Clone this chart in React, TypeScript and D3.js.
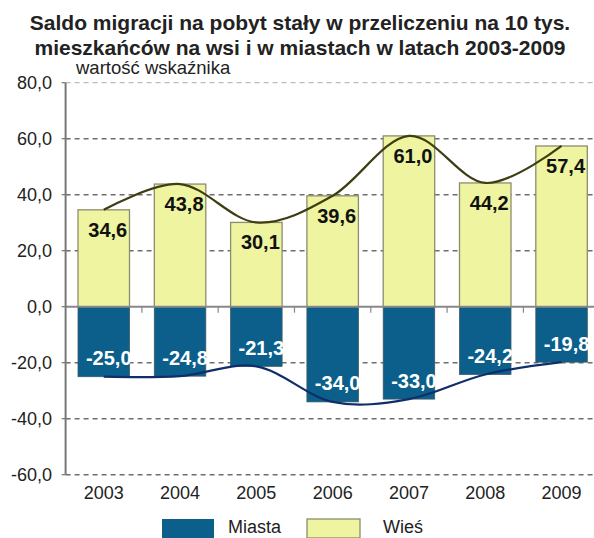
import { curveCardinal, line, scaleBand, scaleLinear } from 'd3'

const WIDTH = 594
const HEIGHT = 538

const years = ['2003', '2004', '2005', '2006', '2007', '2008', '2009']
const wies = [34.6, 43.8, 30.1, 39.6, 61.0, 44.2, 57.4]
const miasta = [-25.0, -24.8, -21.3, -34.0, -33.0, -24.2, -19.8]
const yTicks = [80, 60, 40, 20, 0, -20, -40, -60]

const titleLines = [
  'Saldo migracji na pobyt stały w przeliczeniu na 10 tys.',
  'mieszkańców na wsi i w miastach w latach 2003-2009',
]

const BLUE = '#0b5f8a'
const YELLOW = '#eef49f'
const YELLOW_EDGE = '#8c8c6e'
const FONT = '"Liberation Sans", Arial, sans-serif'

const fmt = (v: number) => v.toFixed(1).replace('.', ',')

export default function App() {
  const x = scaleBand<string>()
    .domain(years)
    .range([65.6, 599.7])
    .paddingInner(0.325)
    .paddingOuter(0.1625)
  const y = scaleLinear().domain([-60, 80]).range([474.7, 82.7])
  const cx = (year: string) => (x(year) ?? 0) + x.bandwidth() / 2

  const trend = line<[string, number]>()
    .x((d) => cx(d[0]))
    .y((d) => y(d[1]))
    .curve(curveCardinal.tension(0))

  const axisX = 65.6
  const step = x.step()

  return (
    <svg
      width={WIDTH}
      height={HEIGHT}
      style={{ position: 'absolute', left: 0, top: 0, background: '#fff' }}
      fontFamily={FONT}
    >
      {titleLines.map((t, i) => (
        <text key={t} x={300} y={29.5 + i * 25} textAnchor="middle" fontSize={21} fontWeight="bold" fill="#222">
          {t}
        </text>
      ))}
      <text x={76} y={74} fontSize={18.5} fill="#222">
        wartość wskaźnika
      </text>

      {yTicks.map((t) => (
        <g key={t}>
          {t !== 0 && (
            <line
              x1={axisX}
              x2={WIDTH}
              y1={y(t)}
              y2={y(t)}
              stroke={t === 80 ? '#aaa' : '#6e6e6e'}
              strokeWidth={t === 80 ? 1 : 1.6}
              strokeDasharray="5,4"
            />
          )}
          <line x1={axisX - 4} x2={axisX} y1={y(t)} y2={y(t)} stroke="#777" strokeWidth={1.2} />
          <text x={52} y={y(t) + 6.5} textAnchor="end" fontSize={18} fill="#222">
            {fmt(t)}
          </text>
        </g>
      ))}

      {years.map((yr, i) => (
        <g key={yr}>
          <rect
            x={x(yr)}
            y={y(wies[i])}
            width={x.bandwidth()}
            height={y(0) - y(wies[i])}
            fill={YELLOW}
            stroke={YELLOW_EDGE}
            strokeWidth={1.3}
          />
          <rect
            x={x(yr)}
            y={y(0)}
            width={x.bandwidth()}
            height={y(miasta[i]) - y(0)}
            fill={BLUE}
            stroke="#3c5a66"
            strokeWidth={0.8}
          />
        </g>
      ))}

      <line x1={axisX} x2={WIDTH} y1={y(0)} y2={y(0)} stroke="#888" strokeWidth={2} />
      {years.map((yr, i) => (
        <line
          key={`tick-${yr}`}
          x1={axisX + step * (i + 1)}
          x2={axisX + step * (i + 1)}
          y1={y(0)}
          y2={y(0) + 6}
          stroke="#888"
          strokeWidth={1.2}
        />
      ))}
      <line x1={axisX} x2={axisX} y1={y(80)} y2={y(-60)} stroke="#777" strokeWidth={2} />

      <path
        d={trend(years.map((yr, i) => [yr, wies[i]] as [string, number])) ?? ''}
        fill="none"
        stroke="#3e3e12"
        strokeWidth={2.2}
      />
      <path
        d={trend(years.map((yr, i) => [yr, miasta[i]] as [string, number])) ?? ''}
        fill="none"
        stroke="#0f2e6c"
        strokeWidth={2.2}
      />

      {years.map((yr, i) => (
        <g key={`lbl-${yr}`}>
          <text
            x={cx(yr) + 4}
            y={y(wies[i]) + 26.7}
            textAnchor="middle"
            fontSize={20}
            fontWeight="bold"
            fill="#111"
          >
            {fmt(wies[i])}
          </text>
          <text
            x={cx(yr) + 5}
            y={y(miasta[i]) - 11.5}
            textAnchor="middle"
            fontSize={20}
            fontWeight="bold"
            fill="#fff"
          >
            {fmt(miasta[i])}
          </text>
        </g>
      ))}

      {years.map((yr) => (
        <text key={`x-${yr}`} x={cx(yr)} y={499} textAnchor="middle" fontSize={18} fill="#222">
          {yr}
        </text>
      ))}

      <rect x={162} y={519} width={52} height={19} fill={BLUE} />
      <text x={228} y={533} fontSize={18} fill="#222">
        Miasta
      </text>
      <rect x={307} y={519} width={53} height={19} fill={YELLOW} stroke={YELLOW_EDGE} strokeWidth={1.3} />
      <text x={383} y={533} fontSize={18} fill="#222">
        Wieś
      </text>
    </svg>
  )
}
